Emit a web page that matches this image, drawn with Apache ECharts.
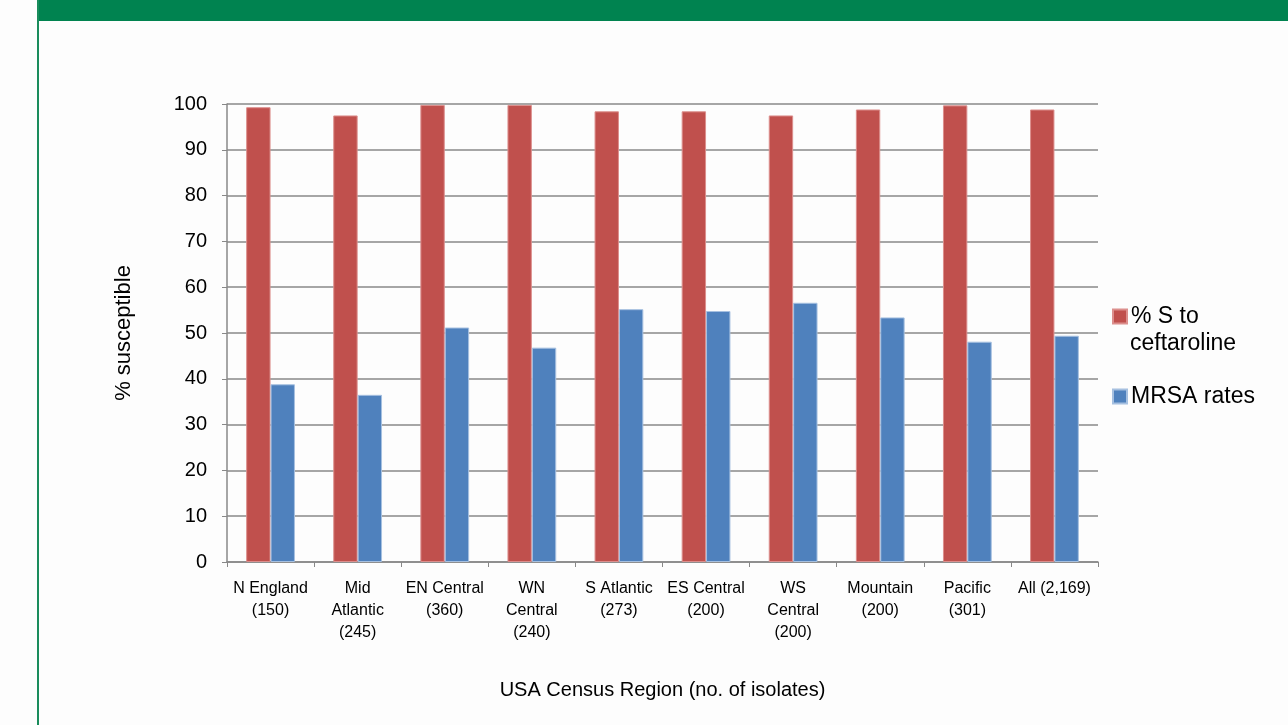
<!DOCTYPE html>
<html>
<head>
<meta charset="utf-8">
<script src="https://cdn.jsdelivr.net/npm/echarts@6/dist/echarts.min.js"></script>
<style>
html, body { margin: 0; padding: 0; background: #fdfdfd; }
#main { width: 1288px; height: 725px; }
</style>
</head>
<body>
<div id="main"></div>
<script>
// regions (no. of isolates)
var regions = ['N England\n(150)', 'Mid\nAtlantic\n(245)', 'EN Central\n(360)', 'WN\nCentral\n(240)',
	'S Atlantic\n(273)', 'ES Central\n(200)', 'WS\nCentral\n(200)', 'Mountain\n(200)', 'Pacific\n(301)', 'All (2,169)'];
var ceftaroline = [99.3, 97.5, 99.8, 99.8, 98.4, 98.4, 97.5, 98.8, 99.7, 98.8];
var mrsa = [38.8, 36.5, 51.2, 46.8, 55.2, 54.8, 56.6, 53.4, 48.1, 49.4];
var yTicks = [0, 10, 20, 30, 40, 50, 60, 70, 80, 90, 100];

var myChart = echarts.init(document.getElementById('main'));

var font = "'Liberation Sans', Arial, sans-serif";

var option = {
	backgroundColor : '#fdfdfd',
	animation : false,
	graphic : [{
				type : 'rect',
				shape : { x : 37, y : 0, width : 1251, height : 21 },
				style : { fill : '#008350' }
			}, {
				type : 'rect',
				shape : { x : 37, y : 0, width : 2, height : 725 },
				style : { fill : '#1a8c5c' }
			}, {
				// second line of the first legend entry
				type : 'text',
				left : 1130,
				top : 332,
				style : {
					text : 'ceftaroline',
					font : "23px 'Liberation Sans', Arial, sans-serif",
					fill : '#000'
				}
			}],
	legend : {
		orient : 'vertical',
		left : 1107,
		top : 300,
		itemWidth : 14,
		itemHeight : 14,
		itemGap : 57,
		icon : 'rect',
		data : ['% S to ceftaroline', 'MRSA rates'],
		formatter : function(name) {
			return name == '% S to ceftaroline' ? '% S to' : name;
		},
		textStyle : {
			fontFamily : font,
			fontSize : 23,
			color : '#000',
			padding : [0, 0, 0, -1]
		}
	},
	grid : {
		left : 227,
		right : 190,
		top : 104,
		bottom : 163
	},
	xAxis : {
		type : 'category',
		data : regions,
		name : 'USA Census Region (no. of isolates)',
		nameLocation : 'middle',
		nameGap : 118,
		nameTextStyle : {
			fontFamily : font,
			fontSize : 20,
			color : '#000'
		},
		axisLine : { lineStyle : { color : '#888', width : 1.5 } },
		axisTick : { show : true, length : 5, lineStyle : { color : '#888' } },
		axisLabel : {
			interval : 0,
			margin : 16,
			fontFamily : font,
			fontSize : 16,
			lineHeight : 22,
			color : '#000'
		}
	},
	yAxis : {
		type : 'value',
		min : 0,
		max : 100,
		interval : 10,
		name : '% susceptible',
		nameLocation : 'middle',
		nameGap : 92,
		nameTextStyle : {
			fontFamily : font,
			fontSize : 22,
			color : '#000'
		},
		axisLine : { show : true, lineStyle : { color : '#888', width : 1.5 } },
		axisTick : { show : true, length : 5, lineStyle : { color : '#888' } },
		splitLine : { lineStyle : { color : '#888', width : 1.5 } },
		axisLabel : {
			margin : 20,
			fontFamily : font,
			fontSize : 20,
			color : '#000',
			formatter : function(v) {
				return yTicks.indexOf(v) >= 0 ? String(v) : '';
			}
		}
	},
	series : [{
				name : '% S to ceftaroline',
				type : 'bar',
				data : ceftaroline,
				barGap : '0%',
				barCategoryGap : '44%',
				itemStyle : { color : '#C0504D', borderColor : '#dc8f8d', borderWidth : 1 }
			}, {
				name : 'MRSA rates',
				type : 'bar',
				data : mrsa,
				itemStyle : { color : '#4F81BD', borderColor : '#a6c0e0', borderWidth : 1 }
			}]
};

myChart.setOption(option);
</script>
</body>
</html>
